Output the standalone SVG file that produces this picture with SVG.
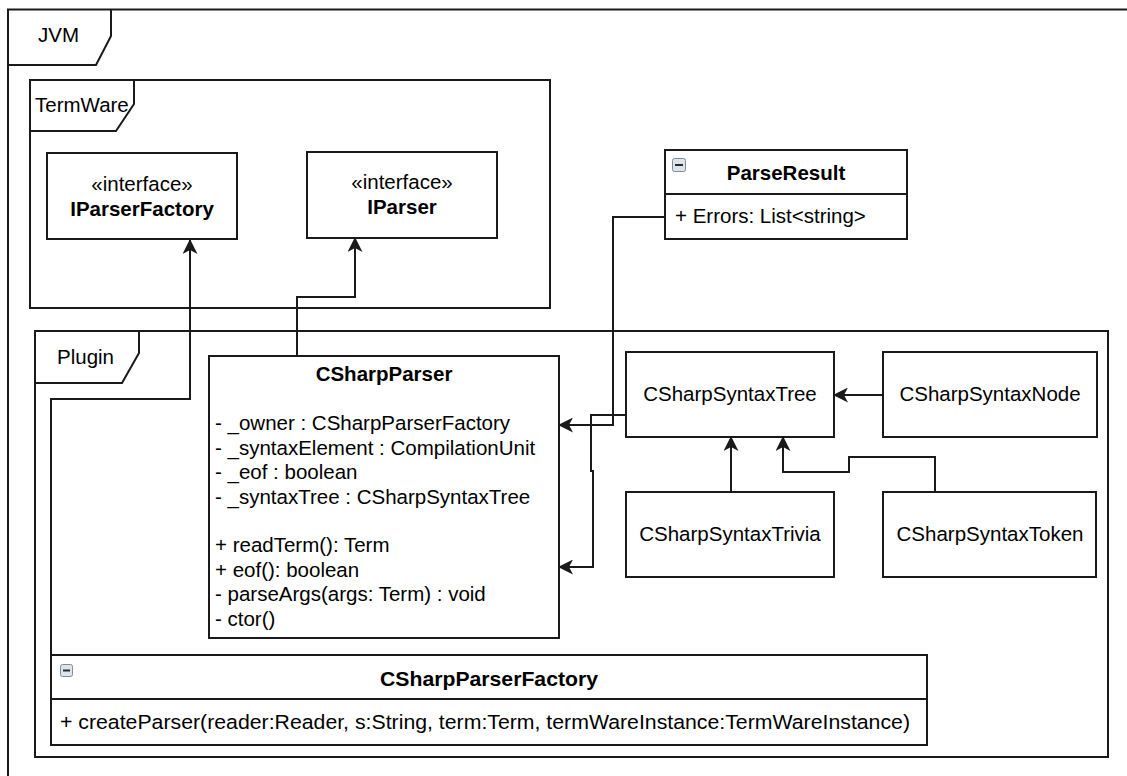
<svg xmlns="http://www.w3.org/2000/svg" width="1127" height="776" viewBox="0 0 1127 776">
<style>
.bx{fill:#fff;stroke:#1a1a1a;stroke-width:2}
.fr{fill:none;stroke:#1a1a1a;stroke-width:2}
.ln{fill:none;stroke:#1a1a1a;stroke-width:2}
text{font-family:"Liberation Sans",Arial,sans-serif;font-size:20.5px;fill:#000}
.b{font-weight:bold}
.c{text-anchor:middle}
.ic{fill:#dfe4ea;stroke:#7d8c9b;stroke-width:1}
.icm{stroke:#2a2a2a;stroke-width:2}
</style>
<defs>
<marker id="arr" markerUnits="userSpaceOnUse" viewBox="0 0 15 15" refX="14" refY="7.5" markerWidth="15" markerHeight="15" orient="auto">
<path d="M0,0 L15,7.5 L0,15 L4,7.5 Z" fill="#1a1a1a"/>
</marker>
</defs>
<rect width="1127" height="776" fill="#fff"/>

<g id="jvm">
<rect class="fr" x="8" y="9.5" width="1140" height="790"/>
<path class="fr" d="M8,65 L96,65 L111,36 L111,9.5"/>
<text x="38" y="42">JVM</text>
</g>

<g id="termware">
<rect class="fr" x="30" y="80" width="520" height="228"/>
<path class="fr" d="M30,131 L116,131 L134,104 L134,80"/>
<text x="35" y="112">TermWare</text>
</g>

<g id="plugin">
<rect class="fr" x="35" y="331" width="1073" height="426"/>
<path class="fr" d="M35,383 L122,383 L139,353 L139,331"/>
<text x="57" y="364">Plugin</text>
</g>

<g id="iparserfactory">
<rect class="bx" x="47" y="153" width="190" height="86"/>
<text class="c" x="142" y="191">«interface»</text>
<text class="c b" x="142" y="216">IParserFactory</text>
</g>

<g id="iparser">
<rect class="bx" x="307" y="152" width="190" height="86"/>
<text class="c" x="402" y="189">«interface»</text>
<text class="c b" x="402" y="214">IParser</text>
</g>

<g id="parseresult">
<rect class="bx" x="665" y="150" width="242" height="89"/>
<line class="ln" x1="665" y1="194" x2="907" y2="194"/>
<rect class="ic" x="672.5" y="158.5" width="13" height="13" rx="2"/>
<line class="icm" x1="675" y1="165" x2="683" y2="165"/>
<text class="c b" x="786" y="180">ParseResult</text>
<text x="675" y="223">+ Errors: List&lt;string&gt;</text>
</g>

<g id="csharpparser">
<rect class="bx" x="209" y="356" width="350" height="282"/>
<text class="c b" x="384" y="381">CSharpParser</text>
<text x="215" y="430">- _owner : CSharpParserFactory</text>
<text x="215" y="454.5">- _syntaxElement : CompilationUnit</text>
<text x="215" y="479">- _eof : boolean</text>
<text x="215" y="503.5">- _syntaxTree : CSharpSyntaxTree</text>
<text x="215" y="552">+ readTerm(): Term</text>
<text x="215" y="576.5">+ eof(): boolean</text>
<text x="215" y="601">- parseArgs(args: Term) : void</text>
<text x="215" y="625.5">- ctor()</text>
</g>

<g id="csharpsyntaxtree">
<rect class="bx" x="626" y="352" width="208" height="85"/>
<text class="c" x="730" y="401">CSharpSyntaxTree</text>
</g>

<g id="csharpsyntaxnode">
<rect class="bx" x="883" y="352" width="214" height="85"/>
<text class="c" x="990" y="401">CSharpSyntaxNode</text>
</g>

<g id="csharpsyntaxtrivia">
<rect class="bx" x="626" y="492" width="208" height="85"/>
<text class="c" x="730" y="541">CSharpSyntaxTrivia</text>
</g>

<g id="csharpsyntaxtoken">
<rect class="bx" x="883" y="492" width="213" height="85"/>
<text class="c" x="990" y="541">CSharpSyntaxToken</text>
</g>

<g id="csharpparserfactory">
<rect class="bx" x="51" y="655" width="876" height="90"/>
<line class="ln" x1="51" y1="699" x2="927" y2="699"/>
<rect class="ic" x="60.5" y="664.5" width="12" height="12" rx="2"/>
<line class="icm" x1="63" y1="670.5" x2="70" y2="670.5"/>
<text class="c b" x="489" y="686" textLength="218" lengthAdjust="spacingAndGlyphs">CSharpParserFactory</text>
<text x="60" y="729" textLength="850" lengthAdjust="spacingAndGlyphs">+ createParser(reader:Reader, s:String, term:Term, termWareInstance:TermWareInstance)</text>
</g>

<g id="connectors">
<path class="ln" d="M51,655 L51,399 L190,399 L190,240" marker-end="url(#arr)"/>
<path class="ln" d="M297,356 L297,297 L355,297 L355,238" marker-end="url(#arr)"/>
<path class="ln" d="M665,217 L613,217 L613,425 L559,425" marker-end="url(#arr)"/>
<path class="ln" d="M626,415 L591,415 L591,471 L593,471 L593,567 L559,567" marker-end="url(#arr)"/>
<path class="ln" d="M883,395 L834,395" marker-end="url(#arr)"/>
<path class="ln" d="M731,492 L731,437" marker-end="url(#arr)"/>
<path class="ln" d="M935,492 L935,457 L849,457 L849,472 L783,472 L783,437" marker-end="url(#arr)"/>
</g>
</svg>
